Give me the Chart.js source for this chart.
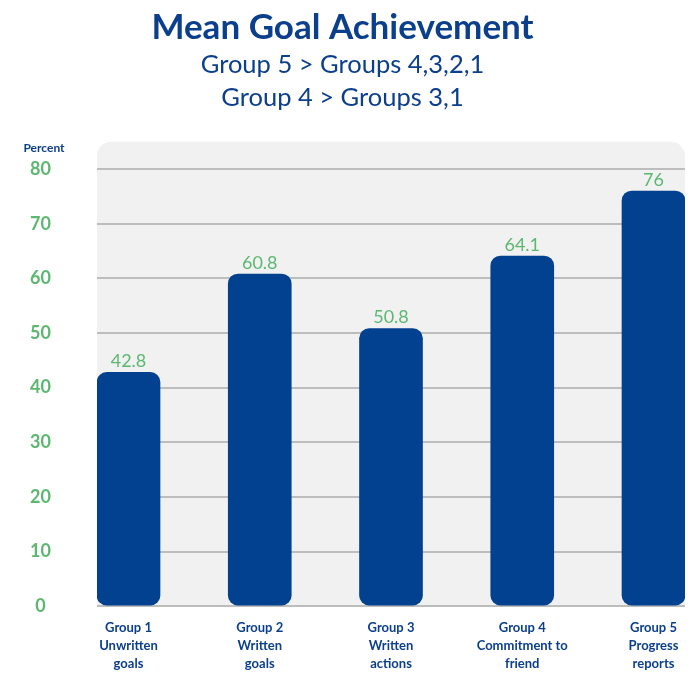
<!DOCTYPE html>
<html>
<head>
<meta charset="utf-8">
<script src="https://cdn.jsdelivr.net/npm/chart.js@4"></script>
<style>
  html, body { margin: 0; padding: 0; background: #fff; }
  #wrap { width: 700px; height: 700px; }
</style>
</head>
<body>
<div id="wrap"><canvas id="goalChart" width="700" height="700"></canvas></div>
<script>
// --- Data ---
const groupLabels = [
    ['Group 1', 'Unwritten', 'goals'],
    ['Group 2', 'Written', 'goals'],
    ['Group 3', 'Written', 'actions'],
    ['Group 4', 'Commitment to', 'friend'],
    ['Group 5', 'Progress', 'reports']
];
const meanPercent = [42.8, 60.8, 50.8, 64.1, 76];
const yTicks = [0, 10, 20, 30, 40, 50, 60, 70, 80];

const titleText = 'Mean Goal Achievement';
const subtitleLines = ['Group 5 > Groups 4,3,2,1', 'Group 4 > Groups 3,1'];

// --- Styling ---
const navy = '#0b3f8c';
const barBlue = '#01418f';
const green = '#5cb870';
const fontFamily = 'Lato, "Open Sans", sans-serif';

// grey rounded panel behind the plot
const panelPlugin = {
    id: 'panel',
    beforeDraw(chart) {
        const { ctx, chartArea: a } = chart;
        ctx.save();
        ctx.fillStyle = '#f1f1f1';
        ctx.beginPath();
        ctx.roundRect(a.left, a.top, a.right - a.left, a.bottom - a.top, [14, 14, 0, 0]);
        ctx.fill();
        ctx.restore();
    }
};

// value labels above bars + "Percent" caption
const labelPlugin = {
    id: 'valueLabels',
    afterDatasetsDraw(chart) {
        const { ctx } = chart;
        const meta = chart.getDatasetMeta(0);
        ctx.save();
        ctx.fillStyle = green;
        ctx.font = '18px ' + fontFamily;
        ctx.textAlign = 'center';
        ctx.textBaseline = 'bottom';
        meta.data.forEach((bar, i) => {
            ctx.fillText(String(meanPercent[i]), bar.x, bar.y - 2);
        });
        const yScale = chart.scales.y;
        ctx.fillStyle = navy;
        ctx.font = 'bold 12px ' + fontFamily;
        ctx.textBaseline = 'middle';
        ctx.fillText('Percent', yScale.left + 44, chart.chartArea.top + 6);
        ctx.restore();
    }
};

new Chart(document.getElementById('goalChart'), {
    type: 'bar',
    data: {
        datasets: [{
            data: meanPercent.map((v, i) => ({ x: i + 1, y: v })),
            backgroundColor: barBlue,
            borderRadius: 10,
            borderSkipped: false,
            barThickness: 63
        }]
    },
    options: {
        responsive: false,
        animation: false,
        layout: { padding: { left: 0, right: 15, top: 8, bottom: 22 } },
        plugins: {
            legend: { display: false },
            tooltip: { enabled: false },
            title: {
                display: true,
                text: titleText,
                color: navy,
                font: { family: fontFamily, size: 35, weight: 'bold', lineHeight: 1.1 },
                padding: { top: 0, bottom: 2 }
            },
            subtitle: {
                display: true,
                text: subtitleLines,
                color: navy,
                font: { family: fontFamily, size: 25.5, lineHeight: 1.3 },
                padding: { top: 0, bottom: 27 }
            }
        },
        scales: {
            x: {
                type: 'linear',
                offset: false,
                min: 0.76,
                max: 5.24,
                afterBuildTicks: s => { s.ticks = groupLabels.map((_, i) => ({ value: i + 1 })); },
                ticks: {
                    autoSkip: false,
                    maxRotation: 0,
                    padding: 5,
                    color: navy,
                    font: { family: fontFamily, size: 13, weight: 'bold', lineHeight: 1.38 },
                    callback: v => groupLabels[v - 1]
                },
                grid: { display: false },
                border: { display: false }
            },
            y: {
                min: 0,
                max: 85,
                afterBuildTicks: s => { s.ticks = yTicks.map(v => ({ value: v })); },
                afterFit: s => { s.width = 97; },
                ticks: {
                    color: green,
                    crossAlign: 'center',
                    padding: 46,
                    font: { family: fontFamily, size: 18, weight: 'bold' }
                },
                grid: { color: '#bdbdbd', lineWidth: 2, drawTicks: false },
                border: { display: false }
            }
        }
    },
    plugins: [panelPlugin, labelPlugin]
});
</script>
</body>
</html>
